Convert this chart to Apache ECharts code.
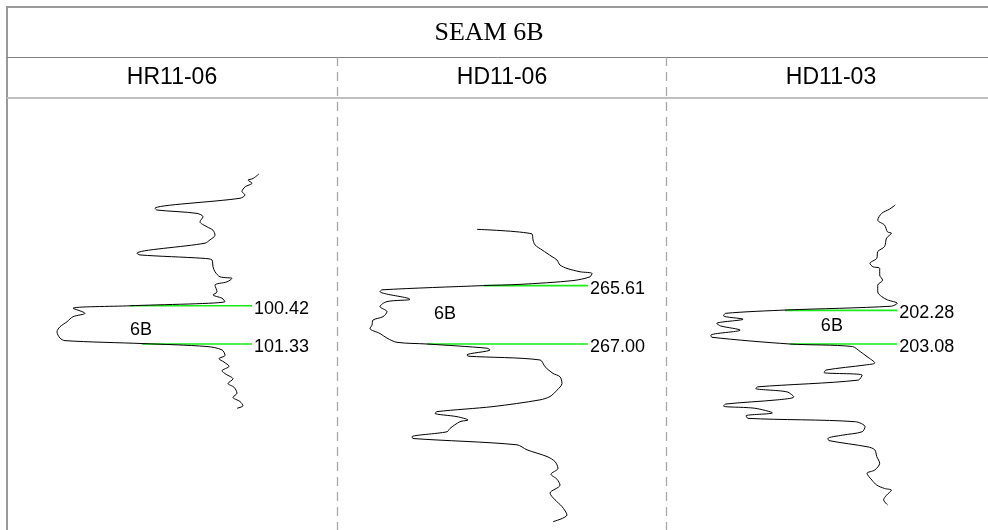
<!DOCTYPE html>
<html>
<head>
<meta charset="utf-8">
<title>SEAM 6B</title>
<script src="https://cdn.jsdelivr.net/npm/echarts@6/dist/echarts.min.js"></script>
<style>
  html, body { margin: 0; padding: 0; background: #ffffff; }
  #chart { width: 988px; height: 530px; }
</style>
</head>
<body>
<div id="chart"></div>
<script>
// ---- Data -------------------------------------------------------------
const chartTitle = 'SEAM 6B';
const wells = ['HR11-06', 'HD11-06', 'HD11-03'];
const seamName = '6B';

// Seam picks per well: [top depth, base depth] (m)
const seamTop  = [100.42, 265.61, 202.28];
const seamBase = [101.33, 267.00, 203.08];
// Log reading where each pick line begins (top, base) and ends
const pickFromTop  = [123, 147, 122];
const pickFromBase = [135, 90, 127];
const pickTo       = [245, 251, 237];

// Log traces: [reading, depth (m)]
const logHR1106 = [
  [252, 97.28], [246, 97.39], [241, 97.43], [245, 97.50], [238, 97.59], [235, 97.70],
  [238, 97.78], [233, 97.86], [148, 98.10], [150, 98.14], [190, 98.22], [196, 98.30],
  [193, 98.42], [200, 98.54], [206, 98.62], [208, 98.74], [203, 98.85], [198, 98.93],
  [130, 99.17], [133, 99.21], [196, 99.29], [205, 99.33], [206, 99.49], [208, 99.61],
  [213, 99.73], [225, 99.77], [220, 99.85], [208, 99.93], [210, 100.09], [206, 100.16],
  [215, 100.24], [218, 100.32], [123, 100.42], [66, 100.48], [78, 100.60], [66, 100.68],
  [60, 100.80], [53, 100.92], [50, 101.04], [53, 101.19], [58, 101.25], [136, 101.32],
  [200, 101.39], [215, 101.47], [218, 101.60], [212, 101.68], [217, 101.76], [222, 101.86],
  [215, 101.97], [219, 102.05], [226, 102.16], [221, 102.27], [227, 102.36], [230, 102.50],
  [226, 102.60], [233, 102.70], [236, 102.80], [230, 102.86]
];
const logHD1106 = [
  [140, 264.27], [195, 264.38], [196, 264.52], [198, 264.64], [205, 264.76], [210, 264.84],
  [215, 264.92], [220, 265.00], [223, 265.12], [230, 265.20], [243, 265.28], [255, 265.32],
  [253, 265.40], [236, 265.49], [183, 265.58], [146, 265.61], [45, 265.71], [43, 265.75],
  [71, 265.91], [73, 265.94], [50, 265.99], [43, 266.11], [50, 266.23], [46, 266.35],
  [36, 266.43], [35, 266.55], [33, 266.63], [43, 266.75], [50, 266.86], [60, 266.96],
  [90, 267.00], [150, 267.10], [153, 267.14], [130, 267.26], [131, 267.29], [203, 267.38],
  [208, 267.54], [216, 267.70], [223, 267.78], [225, 267.94], [220, 268.10], [213, 268.25],
  [203, 268.33], [156, 268.49], [100, 268.61], [98, 268.65], [120, 268.73], [131, 268.81],
  [123, 268.85], [113, 269.01], [110, 269.09], [75, 269.21], [76, 269.25], [180, 269.40],
  [190, 269.52], [210, 269.68], [218, 269.80], [221, 269.96], [214, 270.10], [220, 270.22],
  [223, 270.36], [213, 270.55], [218, 270.71], [225, 270.87], [230, 271.07], [216, 271.23]
];
const logHD1103 = [
  [235, 199.77], [229, 199.87], [221, 199.97], [217, 200.13], [224, 200.25], [227, 200.41],
  [231, 200.44], [226, 200.56], [224, 200.76], [217, 200.88], [216, 201.04], [209, 201.16],
  [212, 201.24], [219, 201.28], [219, 201.44], [222, 201.56], [217, 201.68], [217, 201.84],
  [221, 201.95], [227, 202.03], [237, 202.11], [231, 202.18], [124, 202.27], [61, 202.35],
  [59, 202.41], [79, 202.49], [52, 202.59], [56, 202.65], [76, 202.75], [46, 202.87],
  [47, 202.92], [127, 203.08], [191, 203.14], [199, 203.26], [206, 203.38], [214, 203.53],
  [204, 203.58], [164, 203.70], [162, 203.76], [201, 203.82], [197, 203.94], [94, 204.10],
  [92, 204.14], [124, 204.22], [131, 204.34], [114, 204.41], [61, 204.51], [59, 204.56],
  [91, 204.61], [109, 204.72], [82, 204.79], [84, 204.85], [194, 204.93], [204, 205.05],
  [201, 205.17], [181, 205.25], [166, 205.33], [167, 205.38], [207, 205.53], [214, 205.60],
  [216, 205.76], [219, 205.92], [214, 206.08], [206, 206.16], [211, 206.32], [216, 206.44],
  [224, 206.52], [231, 206.56], [226, 206.68], [223, 206.79], [227, 206.91]
];
const logs = [logHR1106, logHD1106, logHD1103];

// ---- Layout -----------------------------------------------------------
const W = 988, H = 530;
const frameLeft = 7, frameTop = 7, titleBottom = 57, headerBottom = 98;
const panelLeft = [7, 337, 666];
const panelWidth = 330;
const readingMax = 330;            // reading span across one panel
const pxPerMetre = 42;             // common vertical scale
const baseOffset = 246;            // seam base sits this far below the header
const trackHeight = H - headerBottom;
// "6B" label placement per well: [reading, depth]
const seamLabelAt = [[134, 101.00], [108, 266.28], [170, 202.66]];

const labelFont = { color: '#000', fontFamily: 'Liberation Sans, Arial, sans-serif', fontSize: 18 };

const grids = [], xAxes = [], yAxes = [], series = [];
wells.forEach(function (name, i) {
  grids.push({ left: panelLeft[i], top: headerBottom, width: panelWidth, height: trackHeight });
  xAxes.push({ type: 'value', gridIndex: i, min: 0, max: readingMax, show: false });
  const yMin = seamBase[i] - baseOffset / pxPerMetre;
  yAxes.push({ type: 'value', gridIndex: i, inverse: true, min: yMin,
               max: yMin + trackHeight / pxPerMetre, show: false });

  // Seam pick lines with depth labels at their right end
  [[pickFromTop[i], seamTop[i]], [pickFromBase[i], seamBase[i]]].forEach(function (p) {
    const depthText = p[1].toFixed(2);
    series.push({
      type: 'line', xAxisIndex: i, yAxisIndex: i, z: 2, silent: true,
      symbol: 'none', animation: false,
      lineStyle: { color: '#1aeb1a', width: 1.6 },
      endLabel: Object.assign({ show: true, distance: 2, offset: [0, 3],
                                formatter: function () { return depthText; } }, labelFont),
      data: [[p[0], p[1]], [pickTo[i], p[1]]]
    });
  });

  // Log trace
  series.push({
    type: 'line', xAxisIndex: i, yAxisIndex: i, z: 3, silent: true,
    symbol: 'none', smooth: 0.3, animation: false,
    lineStyle: { color: '#000', width: 1 },
    data: logs[i]
  });

  // Seam name
  series.push({
    type: 'scatter', xAxisIndex: i, yAxisIndex: i, z: 4, silent: true,
    symbolSize: 1, animation: false,
    itemStyle: { color: 'rgba(0,0,0,0)', opacity: 1 },
    label: Object.assign({ show: true, position: 'inside',
                           formatter: function () { return seamName; } }, labelFont),
    data: [seamLabelAt[i]]
  });
});

// Frame, dividers and headings
const gray = '#9a9a9a';
const graphic = [
  { type: 'line', shape: { x1: frameLeft, y1: frameTop, x2: W, y2: frameTop },
    style: { stroke: gray, lineWidth: 2 } },
  { type: 'line', shape: { x1: frameLeft, y1: frameTop - 1, x2: frameLeft, y2: H },
    style: { stroke: gray, lineWidth: 2 } },
  { type: 'line', shape: { x1: frameLeft, y1: titleBottom + 0.5, x2: W, y2: titleBottom + 0.5 },
    style: { stroke: '#808080', lineWidth: 1 } },
  { type: 'line', shape: { x1: frameLeft, y1: headerBottom, x2: W, y2: headerBottom },
    style: { stroke: '#c0c0c0', lineWidth: 2 } },
  { type: 'text', x: 489, y: 33,
    style: { text: chartTitle, fill: '#000', align: 'center', verticalAlign: 'middle',
             font: '26px "Liberation Serif", "Times New Roman", serif' } }
];
[panelLeft[1], panelLeft[2]].forEach(function (x) {
  graphic.push({ type: 'line', shape: { x1: x + 0.5, y1: titleBottom, x2: x + 0.5, y2: H },
    style: { stroke: '#a8a8a8', lineWidth: 1.3, lineDash: [9, 6] } });
});
wells.forEach(function (name, i) {
  graphic.push({ type: 'text', x: panelLeft[i] + panelWidth / 2, y: 78,
    style: { text: name, fill: '#000', align: 'center', verticalAlign: 'middle',
             font: '23px "Liberation Sans", Arial, sans-serif' } });
});

const chart = echarts.init(document.getElementById('chart'), null, { renderer: 'canvas' });
chart.setOption({
  backgroundColor: '#ffffff',
  animation: false,
  grid: grids,
  xAxis: xAxes,
  yAxis: yAxes,
  series: series,
  graphic: graphic
});
</script>
</body>
</html>
